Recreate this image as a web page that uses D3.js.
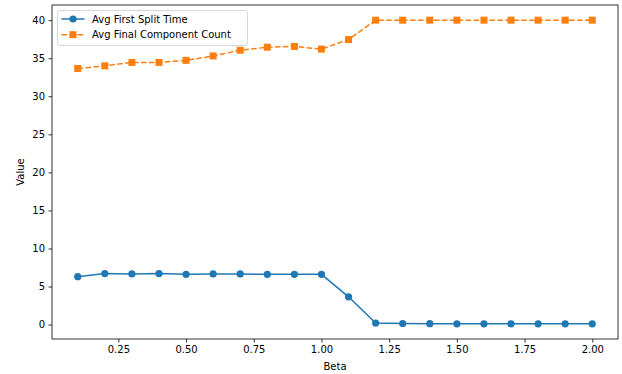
<!DOCTYPE html>
<html><head><meta charset="utf-8">
<script src="https://cdn.jsdelivr.net/npm/d3@7"></script>
<style>body{margin:0;background:#fff}svg{display:block}text{font-family:"DejaVu Sans",sans-serif}</style>
</head><body>
<svg id="c" width="622" height="374"></svg>
<script>
const beta = [0.1,0.2,0.3,0.4,0.5,0.6,0.7,0.8,0.9,1.0,1.1,1.2,1.3,1.4,1.5,1.6,1.7,1.8,1.9,2.0];
const firstSplit = [6.3,6.7,6.65,6.7,6.6,6.65,6.65,6.6,6.6,6.6,3.65,0.2,0.14,0.12,0.1,0.1,0.1,0.1,0.1,0.1];
const finalCount = [33.65,34.0,34.45,34.45,34.72,35.3,36.05,36.45,36.55,36.2,37.45,40,40,40,40,40,40,40,40,40];
const xTicks = [0.25,0.5,0.75,1.0,1.25,1.5,1.75,2.0];
const yTicks = [0,5,10,15,20,25,30,35,40];
const seriesNames = ["Avg First Split Time","Avg Final Component Count"];
const colors = ["#1f77b4","#ff7f0e"];

const svg = d3.select("#c");
const L=52, R=618, T=5, B=339;
const x = d3.scaleLinear().domain([0.005,2.095]).range([L,R]);
const y = d3.scaleLinear().domain([-1.895,41.995]).range([B,T]);

const xa = svg.append("g").attr("transform",`translate(0,${B})`)
  .call(d3.axisBottom(x).tickValues(xTicks).tickFormat(d3.format(".2f")).tickSizeOuter(0).tickSize(3.5).tickPadding(3.5));
const ya = svg.append("g").attr("transform",`translate(${L},0)`)
  .call(d3.axisLeft(y).tickValues(yTicks).tickFormat(d3.format("d")).tickSizeOuter(0).tickSize(3.5).tickPadding(3.5));
[xa,ya].forEach(a=>{a.select(".domain").remove();a.selectAll("text").attr("font-size",10).attr("fill","#000").style("font-family","DejaVu Sans");a.selectAll("line").attr("stroke","#000").attr("stroke-width",0.8);});

svg.append("rect").attr("x",L).attr("y",T).attr("width",R-L).attr("height",B-T)
  .attr("fill","none").attr("stroke","#000").attr("stroke-width",0.8);

svg.append("text").attr("x",(L+R)/2).attr("y",370).attr("text-anchor","middle").attr("font-size",10).text("Beta");
svg.append("text").attr("transform",`translate(24,${(T+B)/2}) rotate(-90)`).attr("text-anchor","middle").attr("font-size",10).text("Value");

const line = d3.line().x(d=>x(d[0])).y(d=>y(d[1]));
const d1 = beta.map((b,i)=>[b,firstSplit[i]]);
const d2 = beta.map((b,i)=>[b,finalCount[i]]);

svg.append("path").datum(d1).attr("d",line).attr("fill","none").attr("stroke",colors[0]).attr("stroke-width",1.5);
svg.selectAll(".c1").data(d1).enter().append("circle").attr("cx",d=>x(d[0])).attr("cy",d=>y(d[1])).attr("r",3.6).attr("fill",colors[0]);

svg.append("path").datum(d2).attr("d",line).attr("fill","none").attr("stroke",colors[1]).attr("stroke-width",1.5).attr("stroke-dasharray","5.55,2.4");
svg.selectAll(".s2").data(d2).enter().append("rect").attr("x",d=>x(d[0])-3.5).attr("y",d=>y(d[1])-3.5).attr("width",7).attr("height",7).attr("fill",colors[1]);

// legend
const lg = svg.append("g");
lg.append("rect").attr("x",57.5).attr("y",10.5).attr("width",190).attr("height",35).attr("rx",2.5)
  .attr("fill","#fff").attr("fill-opacity",0.8).attr("stroke","#ccc").attr("stroke-width",0.8);
const rows=[19,34.7];
rows.forEach((ry,i)=>{
  const g=lg.append("g");
  g.append("line").attr("x1",61.5).attr("x2",84.5).attr("y1",ry).attr("y2",ry).attr("stroke",colors[i]).attr("stroke-width",1.5)
    .attr("stroke-dasharray",i===1?"5.55,2.4":null);
  if(i===0) g.append("circle").attr("cx",73).attr("cy",ry).attr("r",3.6).attr("fill",colors[0]);
  else g.append("rect").attr("x",69.5).attr("y",ry-3.5).attr("width",7).attr("height",7).attr("fill",colors[1]);
  g.append("text").attr("x",92).attr("y",ry+3.6).attr("font-size",10).text(seriesNames[i]);
});
</script>
</body></html>
